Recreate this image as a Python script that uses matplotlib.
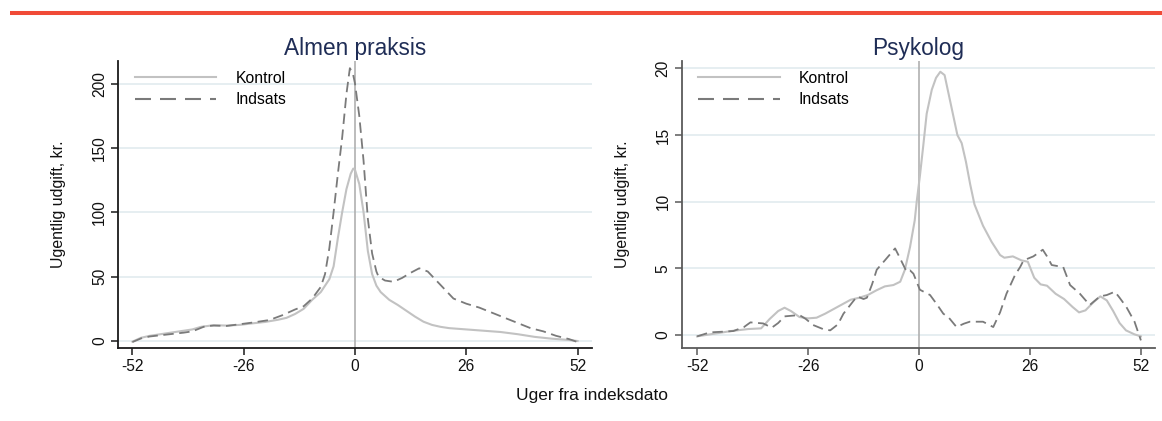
import matplotlib
matplotlib.use("Agg")
import matplotlib.pyplot as plt
from matplotlib.lines import Line2D

plt.rcParams['font.family'] = ['Liberation Sans', 'DejaVu Sans']
plt.rcParams['lines.scale_dashes'] = False

# ---- Almen praksis (weekly expense, DKK) ----
gp_ctrl_weeks = [-52, -50, -48, -44, -40, -38, -36, -33, -30, -27, -24, -21, -18, -16,
                 -14, -12, -10, -8, -6, -5, -4, -3, -2, -1, -0.4, 0, 1, 2, 3, 4, 5, 6,
                 8, 10, 12, 14, 16, 18, 20, 22, 26, 30, 34, 38, 42, 46, 50, 52]
gp_ctrl = [-0.5, 2.5, 4, 6, 8, 9, 11, 12.3, 12, 12.5, 13.7, 14.8, 16.5, 18,
           21, 25, 32, 38, 48, 58, 80, 100, 118, 130, 134, 133, 122, 100, 70, 52, 43, 38,
           32, 28, 23.5, 19, 15, 12.5, 11, 10, 9, 8, 7, 5.3, 3.2, 1.8, 0.8, 0]

gp_int_weeks = [-52, -50, -48, -44, -40, -38, -35, -33, -30, -27, -24, -20, -17, -14,
                -12, -10, -8, -7, -6, -5, -4, -3, -2, -1.2, -0.5, 0, 1, 2, 3, 4, 5,
                5.5, 7, 9, 11, 13, 15, 17, 19, 21, 23, 26, 29, 32, 35, 38, 41, 44,
                47, 50, 52]
gp_int = [-0.8, 2, 3.5, 5, 6.5, 7.5, 11.5, 12, 11.7, 13, 14.3, 16.3, 20, 24.5,
          27, 33, 42, 52, 72, 100, 130, 158, 192, 212, 208, 200, 175, 140, 95, 68, 54,
          50, 47, 46, 49, 53, 56.5, 54, 47, 40, 33, 29, 26, 22, 18, 14, 10, 7.5,
          4, 1.5, -0.8]

# ---- Psykolog (weekly expense, DKK) ----
psy_ctrl_weeks = [-52, -48, -44, -40, -37, -35, -33, -31.5, -30, -28, -26, -24, -22,
                  -20, -18, -16, -14, -12, -10, -8, -6, -4.4, -3.3, -2.1, -1, -0.5,
                  0.2, 1, 1.8, 3, 4, 5, 6, 7, 8, 9, 10, 11, 12, 13, 15, 17, 19, 20,
                  22, 24, 25.5, 27, 28.5, 30, 32, 34, 36, 37.5, 39, 41, 42.5, 44,
                  45.5, 47, 48.5, 50.5, 52]
psy_ctrl = [-0.1, 0.1, 0.3, 0.45, 0.5, 1.2, 1.8, 2.05, 1.8, 1.35, 1.25, 1.3, 1.6,
            1.95, 2.3, 2.65, 2.8, 3.0, 3.35, 3.65, 3.75, 4.0, 4.9, 6.6, 8.6, 10.1,
            11.9, 14.2, 16.6, 18.4, 19.3, 19.75, 19.5, 18, 16.5, 15, 14.4, 13, 11.3,
            9.8, 8.2, 7, 6, 5.8, 5.9, 5.6, 5.5, 4.3, 3.8, 3.7, 3.1, 2.7, 2.1, 1.7,
            1.85, 2.5, 2.9, 2.6, 1.8, 0.9, 0.35, 0.05, -0.1]

psy_int_weeks = [-52, -49, -46, -43.5, -41, -39.5, -36.5, -34.5, -33, -31.5, -28,
                 -26.5, -24.8, -22.5, -20.8, -19, -17.7, -15.5, -14.5, -13, -12.2,
                 -11, -9.9, -8, -5.6, -4.5, -2.9, -2.1, -1.3, 0.2, 2.6, 4.2, 5.7,
                 7, 8.8, 10.5, 11.9, 15, 16.2, 17.4, 19, 20.5, 22.5, 23.7, 24.5,
                 26.8, 29, 30, 31.1, 33.8, 35.4, 37.7, 40, 42.4, 44, 45.9, 47, 48.6,
                 50.5, 52]
psy_int = [-0.1, 0.2, 0.25, 0.3, 0.6, 0.95, 0.87, 0.55, 0.9, 1.4, 1.5,
           1.2, 0.75, 0.45, 0.35, 0.8, 1.6, 2.5, 2.9, 2.7, 2.8,
           3.8, 4.9, 5.6, 6.5, 5.8, 4.75, 4.85, 4.6, 3.4, 3.0, 2.3, 1.6,
           1.3, 0.6, 0.85, 1.0, 1.0, 0.8, 0.6, 1.7, 3.1, 4.5, 5.1, 5.6,
           5.9, 6.4, 5.9, 5.25, 5.1, 3.75, 3.1, 2.25, 2.9, 3.0, 3.25, 2.8, 2.1,
           1.0, -0.4]

x_ticks = [-52, -26, 0, 26, 52]
gp_y_ticks = [0, 50, 100, 150, 200]
psy_y_ticks = [0, 5, 10, 15, 20]
titles = ["Almen praksis", "Psykolog"]
series_labels = ["Kontrol", "Indsats"]
y_label = "Ugentlig udgift, kr."
x_label = "Uger fra indeksdato"

W, H = 1162, 421
fig = plt.figure(figsize=(W / 100, H / 100), dpi=100)

ctrl_color = '#c2c2c2'
int_color = '#7a7a7a'
grid_color = '#e4edf0'
title_color = '#1f2d56'


def px_rect(x0, y0, x1, y1):
    return [x0 / W, 1 - y1 / H, (x1 - x0) / W, (y1 - y0) / H]


panels = [
    dict(rect=px_rect(118.3, 60.7, 591.7, 347.7), xlim=(-55.3, 55.3), ylim=(-5.2, 217.8),
         yticks=gp_y_ticks, data=(gp_ctrl_weeks, gp_ctrl, gp_int_weeks, gp_int),
         spine='#1a1a1a', ylab_x=58),
    dict(rect=px_rect(681.7, 60.7, 1155, 347.7), xlim=(-55.6, 55.3), ylim=(-0.95, 20.58),
         yticks=psy_y_ticks, data=(psy_ctrl_weeks, psy_ctrl, psy_int_weeks, psy_int),
         spine='#5a5a5a', ylab_x=622),
]

for p, title in zip(panels, titles):
    ax = fig.add_axes(p['rect'])
    cw, cv, iw, iv = p['data']
    ax.set_xlim(*p['xlim'])
    ax.set_ylim(*p['ylim'])
    ax.set_yticks(p['yticks'])
    ax.set_xticks(x_ticks)
    ax.set_xticklabels([str(t) for t in x_ticks])
    ax.set_yticklabels([str(t) for t in p['yticks']], rotation=90, va='center')
    ax.yaxis.grid(True, color=grid_color, lw=1.3)
    ax.set_axisbelow(True)
    ax.axvline(0, color='#b0b0b0', lw=1.2, zorder=1)
    ax.plot(cw, cv, color=ctrl_color, lw=1.5, zorder=3)
    ax.plot(iw, iv, color=int_color, lw=1.3, dashes=(7.5, 4.0), zorder=4)
    for s in ('top', 'right'):
        ax.spines[s].set_visible(False)
    for s in ('left', 'bottom'):
        ax.spines[s].set_color(p['spine'])
        ax.spines[s].set_linewidth(1.3)
    ax.tick_params(axis='both', length=5, width=1.1, color=p['spine'],
                   labelsize=11.2, labelcolor='#111111', pad=3)

    handles = [Line2D([], [], color=ctrl_color, lw=1.5),
               Line2D([], [], color=int_color, lw=1.5, dashes=(11.5, 6.5))]
    ax.legend(handles, series_labels, loc='upper left', bbox_to_anchor=(0.035, 0.965),
              frameon=False, handlelength=5.2, handletextpad=1.2, borderaxespad=0,
              borderpad=0, labelspacing=0.42, fontsize=11.3)

    cx = (p['rect'][0] + p['rect'][2] / 2)
    fig.text(cx, 1 - 55 / H, title, ha='center', va='baseline', fontsize=16.3,
             color=title_color)
    fig.text(p['ylab_x'] / W, 1 - 204 / H, y_label, rotation=90, ha='center',
             va='center', fontsize=11.4, color='#111111')

fig.text(592 / W, 1 - 400 / H, x_label, ha='center', va='baseline', fontsize=12.5,
         color='#111111')

# accent rule along the top edge
fig.add_artist(Line2D([10 / W, 1.0], [1 - 13 / H, 1 - 13 / H], color='#f04a37',
                      lw=2.9, solid_capstyle='butt'))

fig.savefig('out.png', dpi=100)
